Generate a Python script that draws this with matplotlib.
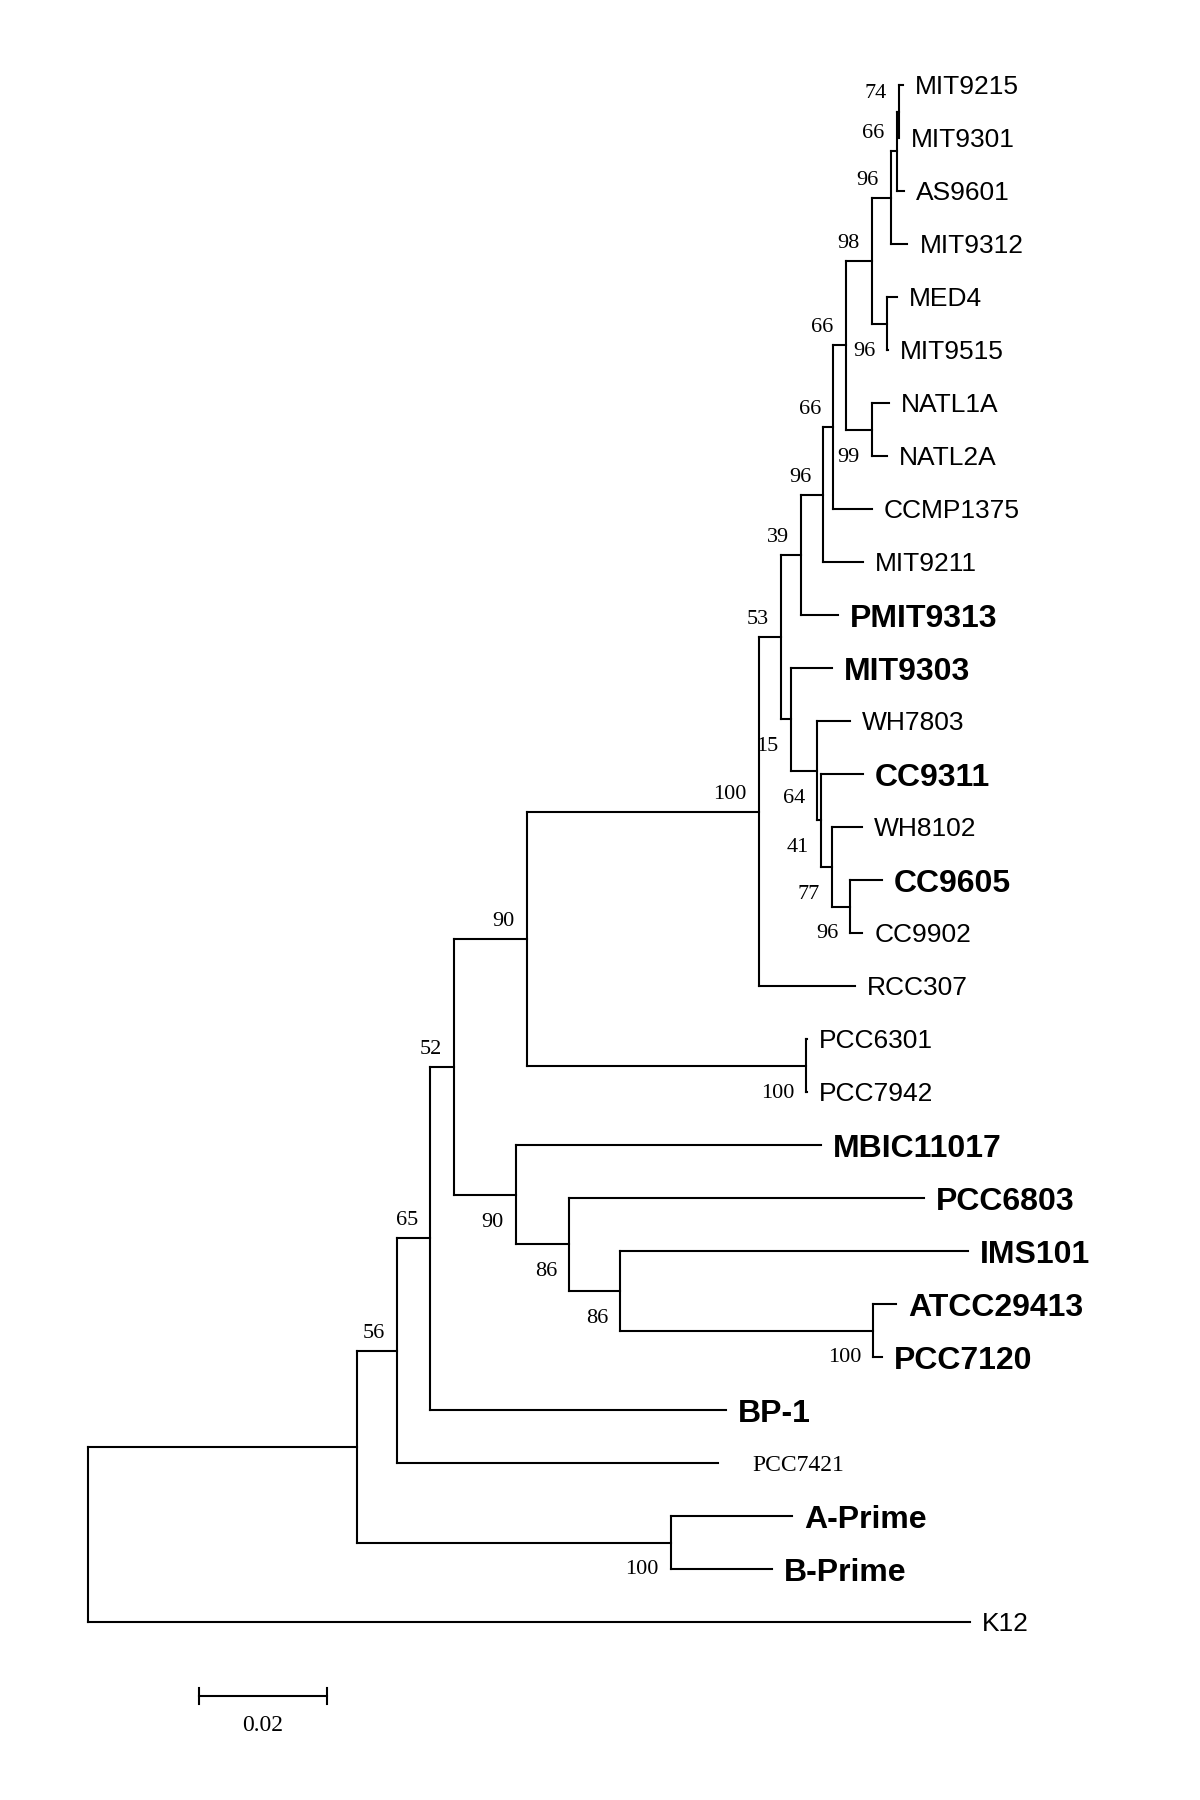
import matplotlib
matplotlib.use("Agg")
import matplotlib.pyplot as plt

# ============================================================
# leaves, top to bottom, distance from root (subst./site)
# ============================================================
taxa = ["MIT9215", "MIT9301", "AS9601", "MIT9312", "MED4", "MIT9515",
        "NATL1A", "NATL2A", "CCMP1375", "MIT9211", "PMIT9313", "MIT9303",
        "WH7803", "CC9311", "WH8102", "CC9605", "CC9902", "RCC307",
        "PCC6301", "PCC7942", "MBIC11017", "PCC6803", "IMS101", "ATCC29413",
        "PCC7120", "BP-1", "PCC7421", "A-Prime", "B-Prime", "K12"]
tip_depth = [0.1279, 0.1273, 0.1281, 0.1286, 0.1269, 0.1255,
             0.1257, 0.1254, 0.1230, 0.1216, 0.1177, 0.1168,
             0.1196, 0.1216, 0.1215, 0.1246, 0.1215, 0.1204,
             0.1128, 0.1128, 0.1151, 0.1312, 0.1381, 0.1268,
             0.1246, 0.1001, 0.0989, 0.1105, 0.1074, 0.1384]
bold_taxa = ["PMIT9313", "MIT9303", "CC9311", "CC9605", "MBIC11017",
             "PCC6803", "IMS101", "ATCC29413", "PCC7120", "BP-1",
             "A-Prime", "B-Prime"]
serif_taxa = ["PCC7421"]

# ============================================================
# internal nodes (children before parents)
# ============================================================
node_ids = ["n74", "n66a", "n96a", "n96b", "n98", "n99", "n66b", "n66c",
            "n96c", "n39", "n96d", "n77", "n41", "n64", "n15", "n53",
            "n100a", "n100b", "n90a", "n100c", "n86b", "n86a", "n90b",
            "n52", "n65", "n56", "n100d", "nX", "root"]
node_kids = [("MIT9215", "MIT9301"), ("n74", "AS9601"), ("n66a", "MIT9312"),
             ("MED4", "MIT9515"), ("n96a", "n96b"), ("NATL1A", "NATL2A"),
             ("n98", "n99"), ("n66b", "CCMP1375"), ("n66c", "MIT9211"),
             ("n96c", "PMIT9313"), ("CC9605", "CC9902"), ("WH8102", "n96d"),
             ("CC9311", "n77"), ("WH7803", "n41"), ("MIT9303", "n64"),
             ("n39", "n15"), ("n53", "RCC307"), ("PCC6301", "PCC7942"),
             ("n100a", "n100b"), ("ATCC29413", "PCC7120"), ("IMS101", "n100c"),
             ("PCC6803", "n86b"), ("MBIC11017", "n86a"), ("n90a", "n90b"),
             ("n52", "BP-1"), ("n65", "PCC7421"), ("A-Prime", "B-Prime"),
             ("n56", "n100d"), ("nX", "K12")]
node_depth = [0.1272, 0.1269, 0.1260, 0.1254, 0.1230, 0.1230, 0.1189, 0.1169,
              0.1154, 0.1119, 0.1196, 0.1168, 0.1150, 0.1144, 0.1103, 0.1088,
              0.1053, 0.1127, 0.0689, 0.1232, 0.0835, 0.0755, 0.0672,
              0.0575, 0.0537, 0.0485, 0.0915, 0.0423, 0.0]
node_boot = [74, 66, 96, 96, 98, 99, 66, 66,
             96, 39, 96, 77, 41, 64, 15, 53,
             100, 100, 90, 100, 86, 86, 90,
             52, 65, 56, 100, None, None]
boot_below = ["n96b", "n99", "n15", "n64", "n41", "n77", "n96d", "n100b",
              "n90b", "n86a", "n86b", "n100c", "n100d"]

SCALE_LEN = 0.02

# ============================================================
# 坐标
# ============================================================
X = {}
Y = {}
for i, t in enumerate(taxa):
    X[t] = tip_depth[i]
    Y[t] = i
for nid, kids, d in zip(node_ids, node_kids, node_depth):
    X[nid] = d
    Y[nid] = (Y[kids[0]] + Y[kids[1]]) / 2.0

PX_PER_UNIT = 6375.0
X0 = 87.6          # root x in pixels
Y0, DY = 85.0, 53.0

fig = plt.figure(figsize=(12, 18), dpi=100)
ax = fig.add_axes([0, 0, 1, 1])
ax.set_xlim(-X0 / PX_PER_UNIT, (1200 - X0) / PX_PER_UNIT)
ax.set_ylim((1800 - Y0) / DY, -Y0 / DY)
ax.axis("off")

LW = 1.5
line_kw = dict(color="black", lw=LW, solid_capstyle="projecting")

for nid, kids in zip(node_ids, node_kids):
    xn = X[nid]
    ys = [Y[k] for k in kids]
    ax.plot([xn, xn], [min(ys), max(ys)], **line_kw)
    for k in kids:
        ax.plot([xn, X[k]], [Y[k], Y[k]], **line_kw)

# leaf names
for t in taxa:
    gap = 12
    if t in serif_taxa:
        kw = dict(family="Liberation Serif", fontsize=17, fontweight="normal")
        dy = 8
        gap = 34
    elif t in bold_taxa:
        kw = dict(family="Liberation Sans", fontsize=23, fontweight="bold")
        dy = 12
    else:
        kw = dict(family="Liberation Sans", fontsize=19, fontweight="normal")
        dy = 9
    ax.annotate(t, (X[t], Y[t]), xytext=(gap, -dy), textcoords="offset pixels",
                ha="left", va="baseline", **kw)

# bootstrap values
for nid, b in zip(node_ids, node_boot):
    if b is None:
        continue
    dy = -32 if nid in boot_below else 13
    ax.annotate(str(b), (X[nid], Y[nid]), xytext=(-12, dy),
                textcoords="offset pixels", ha="right", va="baseline",
                family="Liberation Serif", fontsize=16)

# scale bar
sb_x = (199 - X0) / PX_PER_UNIT
sb_y = (1696 - Y0) / DY
tick = 8 / DY
ax.plot([sb_x, sb_x + SCALE_LEN], [sb_y, sb_y], color="black", lw=LW)
ax.plot([sb_x, sb_x], [sb_y - tick, sb_y + tick], color="black", lw=LW)
ax.plot([sb_x + SCALE_LEN, sb_x + SCALE_LEN], [sb_y - tick, sb_y + tick],
        color="black", lw=LW)
ax.text(sb_x + SCALE_LEN / 2, sb_y + 35 / DY, "%.2f" % SCALE_LEN,
        ha="center", va="baseline", family="Liberation Serif", fontsize=17)

fig.savefig("out.png", dpi=100, facecolor="white")
